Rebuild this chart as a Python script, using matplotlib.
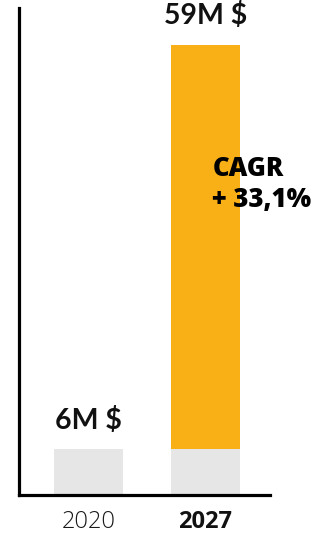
import numpy as np
import matplotlib
matplotlib.use("Agg")
import matplotlib.pyplot as plt

# data
years = ["2020", "2027"]
base_values = [6, 6]          # M $ (grey part)
growth_values = [0, 53]       # M $ (orange part, 2027 only)
value_labels = ["6M $", "59M $"]
cagr_text = "CAGR\n+ 33,1%"

grey = "#E6E6E6"
orange = "#F9B016"

fig = plt.figure(figsize=(3.19, 5.34), dpi=100)
ax = fig.add_axes([19 / 319, 39 / 534, 251 / 319, 487 / 534])

x = np.arange(len(years))
ax.bar(x, base_values, width=0.59, color=grey, zorder=2)
ax.bar(x, growth_values, width=0.59, bottom=base_values, color=orange, zorder=2)

totals = np.array(base_values) + np.array(growth_values)
for xi, tot, lab in zip(x, totals, value_labels):
    ax.annotate(lab, (xi, tot), xytext=(0, 11), textcoords="offset points",
                ha="center", va="bottom", fontsize=20.5, fontfamily="Lato",
                fontweight="bold", color="#111111")

ax.annotate(cagr_text, (x[1], totals[1]), xytext=(5, -80), textcoords="offset points",
            ha="left", va="top", fontsize=18.5, fontfamily="Open Sans",
            fontweight="heavy", color="black", linespacing=1.25)

ax.set_xlim(-0.594, 1.551)
ax.set_ylim(0, 63.8)

for s in ["top", "right"]:
    ax.spines[s].set_visible(False)
for s in ["left", "bottom"]:
    ax.spines[s].set_linewidth(2.3)
    ax.spines[s].set_color("black")

ax.set_yticks([])
ax.set_xticks(x)
ax.set_xticklabels(years, fontsize=17, fontfamily="Open Sans")
ax.tick_params(axis="x", length=0, pad=11)
labels = ax.get_xticklabels()
labels[0].set_fontweight("light")
labels[0].set_color("#1a1a1a")
labels[1].set_fontweight("bold")
labels[1].set_color("#111111")

fig.savefig("out.png", dpi=100)
